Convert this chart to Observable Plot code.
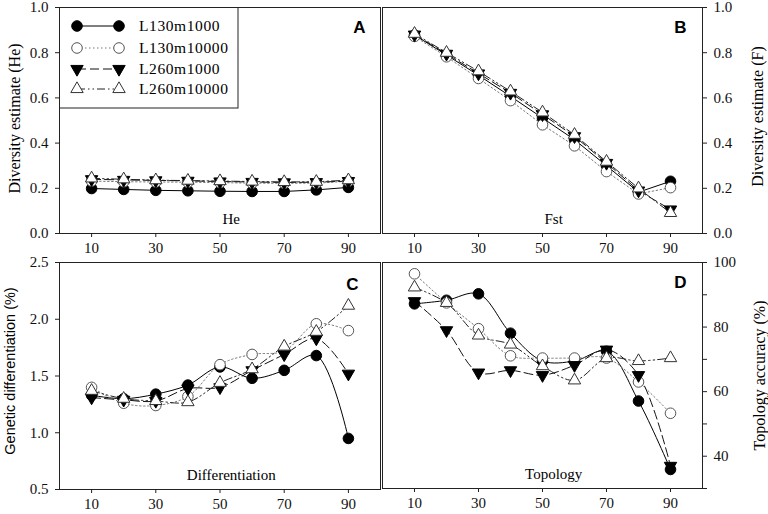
<!DOCTYPE html>
<html><head><meta charset="utf-8">
<script src="https://cdn.jsdelivr.net/npm/d3@7"></script>
<script src="https://cdn.jsdelivr.net/npm/@observablehq/plot@0.6"></script>
<style>
body{margin:0;background:#fff;}
#chart{position:relative;width:768px;height:514px;overflow:hidden;background:#fff;}
#chart svg{position:absolute;left:0;top:0;}
#chart svg text{font-family:"Liberation Serif","Times New Roman",serif;}
#chart svg .sans text, #chart svg text.sans{font-family:"Liberation Sans",Arial,sans-serif;}
</style></head><body><div id="chart"></div>
<script>
// ---- data ----
const xValues = [10, 20, 30, 40, 50, 60, 70, 80, 90];
const xTicks = [10, 30, 50, 70, 90];
const seriesNames = ["L130m1000", "L130m10000", "L260m1000", "L260m10000"];

// Panel A: He
const heL130m1000  = [0.199, 0.195, 0.191, 0.189, 0.187, 0.186, 0.186, 0.193, 0.204];
const heL130m10000 = [0.232, 0.229, 0.228, 0.227, 0.225, 0.223, 0.222, 0.223, 0.231];
const heL260m1000  = [0.240, 0.237, 0.235, 0.233, 0.230, 0.228, 0.226, 0.227, 0.232];
const heL260m10000 = [0.244, 0.240, 0.236, 0.234, 0.232, 0.230, 0.228, 0.229, 0.236];

// Panel B: Fst
const fstL130m1000  = [0.878, 0.790, 0.700, 0.607, 0.511, 0.415, 0.300, 0.183, 0.231];
const fstL130m10000 = [0.872, 0.782, 0.686, 0.588, 0.481, 0.388, 0.274, 0.175, 0.203];
const fstL260m1000  = [0.880, 0.795, 0.708, 0.622, 0.527, 0.430, 0.312, 0.190, 0.106];
const fstL260m10000 = [0.884, 0.800, 0.718, 0.629, 0.536, 0.437, 0.318, 0.200, 0.091];

// Panel C: Differentiation
const difL130m1000  = [1.33, 1.30, 1.34, 1.42, 1.58, 1.48, 1.55, 1.68, 0.95];
const difL130m10000 = [1.40, 1.26, 1.24, 1.32, 1.60, 1.69, 1.72, 1.96, 1.90];
const difL260m1000  = [1.31, 1.29, 1.28, 1.39, 1.40, 1.55, 1.69, 1.83, 1.52];
const difL260m10000 = [1.37, 1.30, 1.28, 1.27, 1.44, 1.56, 1.76, 1.89, 2.12];

// Panel D: Topology
const topL130m1000  = [87.2, 88.3, 90.3, 78.1, 69.5, 69.5, 72.5, 57.1, 35.9];
const topL130m10000 = [96.5, 87.5, 79.5, 71.1, 70.4, 70.4, 70.4, 63.0, 53.3];
const topL260m1000  = [88.0, 79.0, 65.9, 66.6, 65.1, 68.2, 73.0, 65.1, 37.0];
const topL260m10000 = [92.3, 87.5, 77.4, 74.6, 67.9, 63.5, 70.4, 69.5, 70.4];

const heTicks = [0, 0.2, 0.4, 0.6, 0.8, 1.0];
const difTicks = [0.5, 1.0, 1.5, 2.0, 2.5];
const topTicks = [30, 40, 50, 60, 70, 80, 90, 100];
const topLabels = [40, 60, 80, 100];

// ---- styles ----
const serif = "Liberation Serif";
const sans = "Liberation Sans";
const triangleDown = {
  draw(context, size) {
    const s3 = Math.sqrt(3);
    const y = -Math.sqrt(size / (s3 * 3));
    context.moveTo(0, -2 * y);
    context.lineTo(-s3 * y, y);
    context.lineTo(s3 * y, y);
    context.closePath();
  }
};
const seriesStyle = [
  {stroke: "#000", dash: null, symbol: "circle", fill: "#000", dot: "#000", r: 5.3},
  {stroke: "#777", dash: "1.5,2.5", symbol: "circle", fill: "#fff", dot: "#555", r: 5.3},
  {stroke: "#111", dash: "9,4", symbol: triangleDown, fill: "#000", dot: "#000", r: 4.6},
  {stroke: "#222", dash: "8,3,1.5,3,1.5,3", symbol: "triangle", fill: "#fff", dot: "#333", r: 4.6}
];

function rows(arrays) {
  return arrays.map(vals => vals.map((v, i) => ({x: xValues[i], y: v})));
}

const W = 768, H = 514;
const chart = document.getElementById("chart");

function panel(o) {
  const series = rows(o.values);
  const marks = [
    Plot.frame({stroke: "#222", strokeWidth: 1}),
    Plot.axisX({ticks: xTicks, tickSize: 4, tickPadding: 5, label: null, fontSize: 15, fontFamily: serif, stroke: "#222", fill: "#111"}),
    Plot.axisY({anchor: o.yAnchor, ticks: o.yTicks, tickFormat: o.yFormat, tickSize: 4, tickPadding: 7, label: null, fontSize: 15, fontFamily: serif, stroke: "#222", fill: "#111"})
  ];
  series.forEach((d, k) => {
    const s = seriesStyle[k];
    marks.push(Plot.line(d, {x: "x", y: "y", stroke: s.stroke, strokeWidth: 1, strokeDasharray: s.dash, curve: o.curve}));
  });
  series.forEach((d, k) => {
    const s = seriesStyle[k];
    marks.push(Plot.dot(d, {x: "x", y: "y", symbol: s.symbol, r: s.r, fill: s.fill, stroke: s.dot, strokeWidth: 1}));
  });
  marks.push(Plot.text([o.letter], {frameAnchor: "top-right", dx: o.letterDx, dy: o.letterDy, textAnchor: "end", lineAnchor: "top", fontFamily: sans, fontWeight: "bold", fontSize: 17, fill: "#000", className: "sans"}));
  marks.push(Plot.text([{x: 53.5, t: o.inner}], {x: "x", text: "t", frameAnchor: "bottom", dy: -14, lineAnchor: "middle", fontFamily: serif, fontSize: 15, fill: "#000"}));
  marks.push(Plot.text([o.title], {frameAnchor: o.yAnchor, dx: o.titleDx, dy: o.titleDy, rotate: -90, textAnchor: "middle", lineAnchor: "middle", fontFamily: o.titleSans ? sans : serif, fontSize: o.titleSize || 16, fill: "#000", className: o.titleSans ? "sans" : undefined}));
  const svg = Plot.plot({
    width: W, height: H,
    marginLeft: o.m[0], marginRight: o.m[1], marginTop: o.m[2], marginBottom: o.m[3],
    style: {background: "transparent", color: "#000"},
    x: {domain: [0, 100]},
    y: {domain: o.yDomain},
    marks
  });
  chart.appendChild(svg);
}

panel({
  values: [heL130m1000, heL130m10000, heL260m1000, heL260m10000],
  m: [59, 388, 7, 281], yDomain: [0, 1], yTicks: heTicks, yFormat: d3.format(".1f"), yAnchor: "left",
  curve: "linear", letter: "A", letterDx: -15, letterDy: 13, inner: "He",
  title: "Diversity estimate (He)", titleDx: -45, titleDy: -2
});
panel({
  values: [fstL130m1000, fstL130m10000, fstL260m1000, fstL260m10000],
  m: [382, 66, 7, 281], yDomain: [0, 1], yTicks: heTicks, yFormat: d3.format(".1f"), yAnchor: "right",
  curve: "linear", letter: "B", letterDx: -16, letterDy: 13, inner: "Fst",
  title: "Diversity estimate (F)", titleDx: 55, titleDy: -4
});
panel({
  values: [difL130m1000, difL130m10000, difL260m1000, difL260m10000],
  m: [59, 388, 262, 25], yDomain: [0.5, 2.5], yTicks: difTicks, yFormat: d3.format(".1f"), yAnchor: "left",
  curve: "catmull-rom", letter: "C", letterDx: -22, letterDy: 15, inner: "Differentiation",
  title: "Genetic differentiation (%)", titleDx: -49, titleDy: -5, titleSans: true, titleSize: 14.5
});
panel({
  values: [topL130m1000, topL130m10000, topL260m1000, topL260m10000],
  m: [382, 66, 262, 26], yDomain: [30, 100], yTicks: topTicks, yFormat: d => topLabels.includes(d) ? String(d) : "", yAnchor: "right",
  curve: "catmull-rom", letter: "D", letterDx: -16, letterDy: 13, inner: "Topology",
  title: "Topology accuracy (%)", titleDx: 57, titleDy: 0
});

// ---- legend (inside panel A) ----
const leg = d3.select(chart).append("svg").attr("width", W).attr("height", H);
leg.append("rect").attr("x", 59.5).attr("y", 7.5).attr("width", 178.5).attr("height", 100.5)
  .attr("fill", "#fff").attr("stroke", "#222");
const rowsY = [26, 48, 69, 89];
seriesNames.forEach((name, k) => {
  const s = seriesStyle[k], y = rowsY[k];
  leg.append("line").attr("x1", 77).attr("x2", 119).attr("y1", y).attr("y2", y)
    .attr("stroke", s.stroke).attr("stroke-dasharray", s.dash);
  const sym = typeof s.symbol === "string" ? (s.symbol === "circle" ? d3.symbolCircle : d3.symbolTriangle) : s.symbol;
  [77, 119].forEach(x => {
    leg.append("path").attr("d", d3.symbol(sym, Math.PI * s.r * s.r)())
      .attr("transform", `translate(${x},${y})`)
      .attr("fill", s.fill).attr("stroke", s.dot);
  });
  leg.append("text").attr("x", 139).attr("y", y + 5).text(name)
    .attr("font-size", 15.5).attr("letter-spacing", 0.6).attr("fill", "#000");
});
</script></body></html>
